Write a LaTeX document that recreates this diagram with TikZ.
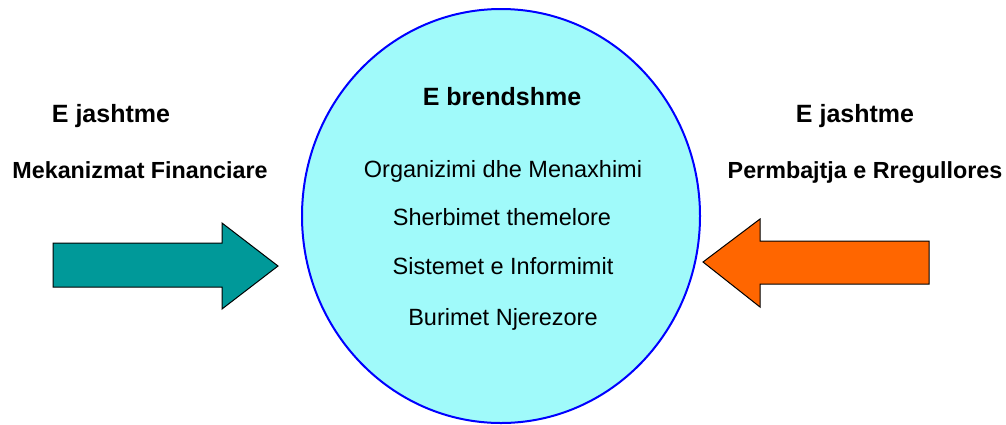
\documentclass[tikz,border=0pt]{standalone}
\usepackage{fontspec}
\setmainfont{Liberation Sans}
\usetikzlibrary{shapes.geometric}
\definecolor{tealarrow}{HTML}{009999}
\definecolor{orangearrow}{HTML}{FF6600}
\definecolor{cyanfill}{HTML}{A0FAFA}
\definecolor{ellblue}{HTML}{0000FF}
\tikzset{
  titletext/.style={anchor=base, font=\fontsize{25}{28}\selectfont\bfseries, inner sep=0pt},
  sidetext/.style={anchor=base, font=\fontsize{23.3}{26}\selectfont\bfseries, inner sep=0pt},
  itemtext/.style={anchor=base, font=\fontsize{23.5}{26}\selectfont, inner sep=0pt},
  arrowshape/.style={draw=black, line width=1pt, line join=miter},
}
\begin{document}
\begin{tikzpicture}[x=1pt,y=-1pt]
\useasboundingbox (0,0) rectangle (1006,424);
% central ellipse
\node[ellipse, draw=ellblue, fill=cyanfill, line width=2pt, minimum width=398pt, minimum height=414pt, inner sep=0pt] (core) at (501,216) {};
% inner texts
\node[titletext] (inner) at (502,105) {E brendshme};
\node[itemtext] (org) at (503,177) {Organizimi dhe Menaxhimi};
\node[itemtext] (sher) at (502,225) {Sherbimet themelore};
\node[itemtext] (sist) at (503,274) {Sistemet e Informimit};
\node[itemtext] (bur) at (503,325) {Burimet Njerezore};
% left side texts
\node[titletext] (extL) at (111,122) {E jashtme};
\node[sidetext] (fin) at (140,178) {Mekanizmat Financiare};
% right side texts
\node[titletext] (extR) at (855,122) {E jashtme};
\node[sidetext] (reg) at (865,178) {Permbajtja e Rregullores};
% left arrow (teal, pointing right)
\draw[arrowshape, fill=tealarrow] (53,243) -- (222,243) -- (222,223) -- (278,266) -- (222,309) -- (222,287) -- (53,287) -- cycle;
% right arrow (orange, pointing left)
\draw[arrowshape, fill=orangearrow] (929,241) -- (760,241) -- (760,219) -- (703,262) -- (760,307) -- (760,284) -- (929,284) -- cycle;
\end{tikzpicture}
\end{document}
